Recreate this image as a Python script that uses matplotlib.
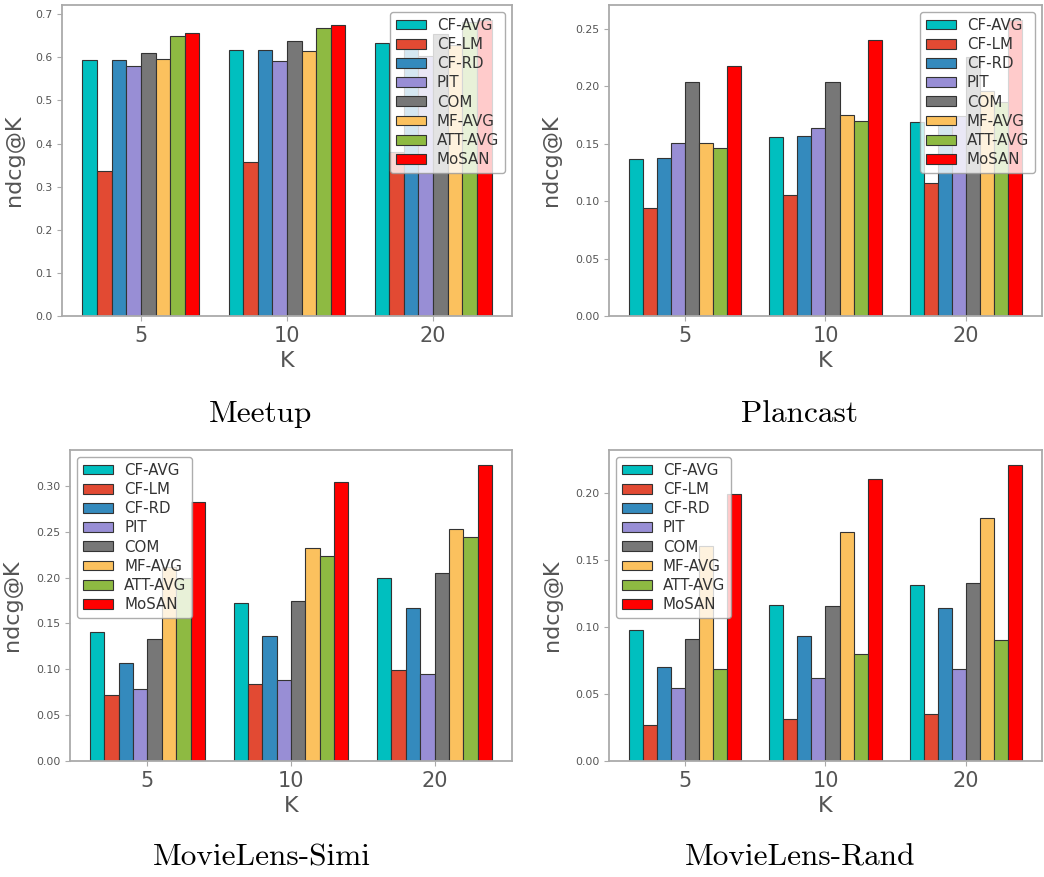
import numpy as np
import matplotlib
matplotlib.use('Agg')
import matplotlib.pyplot as plt

# Data ------------------------------------------------------------------------

K_LABELS = ['5', '10', '20']
METHODS = ['CF-AVG', 'CF-LM', 'CF-RD', 'PIT', 'COM', 'MF-AVG', 'ATT-AVG', 'MoSAN']
COLORS = ['#00bfbf', '#e24a33', '#348abd', '#988ed5', '#777777', '#fbc15e', '#8eba42', '#ff0000']

# rows = methods, columns = K (5, 10, 20)
meetup = [[0.594, 0.617, 0.633],
          [0.337, 0.358, 0.380],
          [0.594, 0.617, 0.628],
          [0.579, 0.592, 0.603],
          [0.611, 0.637, 0.653],
          [0.597, 0.615, 0.628],
          [0.650, 0.667, 0.683],
          [0.657, 0.674, 0.687]]

plancast = [[0.137, 0.156, 0.169],
            [0.094, 0.105, 0.116],
            [0.138, 0.157, 0.170],
            [0.151, 0.164, 0.174],
            [0.204, 0.204, 0.226],
            [0.151, 0.175, 0.196],
            [0.146, 0.170, 0.186],
            [0.218, 0.240, 0.258]]

ml_simi = [[0.141, 0.172, 0.200],
           [0.072, 0.084, 0.099],
           [0.107, 0.136, 0.167],
           [0.079, 0.088, 0.095],
           [0.133, 0.174, 0.205],
           [0.212, 0.232, 0.253],
           [0.200, 0.224, 0.244],
           [0.282, 0.304, 0.323]]

ml_rand = [[0.0975, 0.1166, 0.1315],
           [0.0266, 0.0310, 0.0352],
           [0.0705, 0.0933, 0.1144],
           [0.0543, 0.0618, 0.0685],
           [0.0913, 0.1156, 0.1330],
           [0.1605, 0.1710, 0.1814],
           [0.0690, 0.0797, 0.0900],
           [0.1995, 0.2104, 0.2211]]

CAPTIONS = ['Meetup', 'Plancast', 'MovieLens-Simi', 'MovieLens-Rand']

# Layout (pixels: left, right, top, bottom) ----------------------------------

W, H = 1044, 877
BOXES = [(62, 512, 5, 316), (609, 1042, 5, 316),
         (70, 512, 450, 761), (609, 1042, 450, 761)]
LEGEND_LOC = ['upper right', 'upper right', 'upper left', 'upper left']
YLABEL_X = [-0.084, -0.111, -0.109, -0.108]
CAPTION_POS = [(261, 414), (800, 414), (262, 858), (800, 858)]

GRAY = '#555555'
SPINE = '#aaaaaa'

fig = plt.figure(figsize=(W / 100, H / 100), dpi=100)

datasets = [meetup, plancast, ml_simi, ml_rand]
x = np.arange(len(K_LABELS))
width = 0.1

for i, vals in enumerate(datasets):
    l, r, t, b = BOXES[i]
    ax = fig.add_axes([l / W, 1 - b / H, (r - l) / W, (b - t) / H])
    for j, name in enumerate(METHODS):
        ax.bar(x + (j - 3.5) * width, vals[j], width, color=COLORS[j],
               edgecolor='#333333', linewidth=0.8, label=name)
    ax.set_xticks(x)
    ax.set_xticklabels(K_LABELS, fontsize=15, color=GRAY)
    ax.tick_params(axis='y', labelsize=7.8, labelcolor=GRAY, color=SPINE, length=3.5)
    ax.tick_params(axis='x', color=SPINE, length=3.5, pad=4)
    for s in ax.spines.values():
        s.set_color(SPINE)
        s.set_linewidth(1.3)
    ax.set_xlabel('K', fontsize=16, color=GRAY, labelpad=3)
    ax.set_ylabel('ndcg@K', fontsize=16, color=GRAY)
    ax.yaxis.set_label_coords(YLABEL_X[i], 0.5)
    leg = ax.legend(loc=LEGEND_LOC[i], fontsize=10.8, framealpha=0.8,
                    borderaxespad=0.45, labelspacing=0.28, handleheight=0.62,
                    handletextpad=0.75, labelcolor='#333333')
    leg.get_frame().set_edgecolor('#999999')
    cx, cy = CAPTION_POS[i]
    fig.text(cx / W, 1 - cy / H, CAPTIONS[i], fontsize=22.5, family='cmr10',
             ha='center', va='center', color='black')

fig.savefig('out.png', dpi=100)
